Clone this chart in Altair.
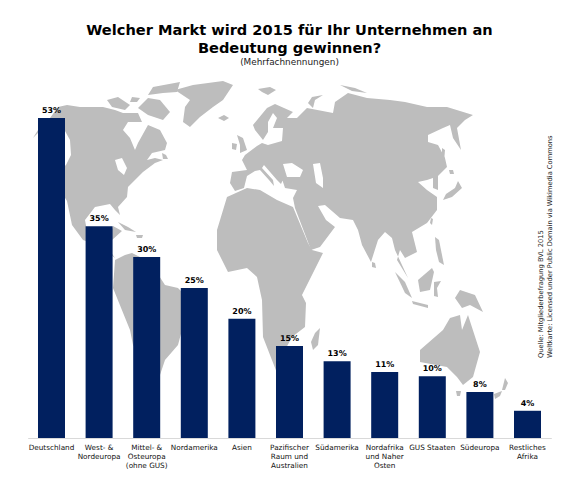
import altair as alt

categories = ["Deutschland", "West- &|Nordeuropa", "Mittel- &|Osteuropa|(ohne GUS)", "Nordamerika", "Asien",
              "Pazifischer|Raum und|Australien", "Südamerika", "Nordafrika|und Naher|Osten", "GUS Staaten",
              "Südeuropa", "Restliches|Afrika"]
bar_values = [52.9, 35.0, 29.9, 24.8, 19.7, 15.2, 12.7, 10.9, 10.2, 7.6, 4.5]
labels = ["53%", "35%", "30%", "25%", "20%", "15%", "13%", "11%", "10%", "8%", "4%"]

TITLE = ["Welcher Markt wird 2015 für Ihr Unternehmen an", "Bedeutung gewinnen?"]
SUBTITLE = "(Mehrfachnennungen)"
SOURCE_1 = "Quelle: Mitgliederbefragung BVL 2015"
SOURCE_2 = "Weltkarte: Licensed under Public Domain via Wikimedia Commons"

# World map outlines, in the reference's map grid
north_america = [(58,107),(67,105),(80,107),(103,107),(115,110),(123,113),(138,113),(142,122),(128,122),(123,130),(130,138),
                 (135,150),(138,143),(148,125),(160,130),(167,143),(165,150),(152,153),(147,160),(155,158),(163,160),
                 (155,163),(143,172),(137,178),(128,187),(127,197),(118,207),(120,215),(115,210),(110,204),(95,207),
                 (85,220),(88,236),(100,242),(110,236),(113,226),(122,231),(112,240),(108,248),(115,258),(100,246),
                 (83,240),(72,225),(67,201),(60,190),(60,170),(66,165),(71,155),(70,140),(65,131),(40,131),(33,138),
                 (38,130),(50,118)]
great_lakes = [(115,160),(122,158),(127,168),(124,175),(118,170)]
greenland = [(175,90),(193,85),(223,81),(233,85),(223,100),(213,107),(200,117),(190,127),(183,122),(185,107),(190,100)]
victoria = [(107,100),(118,97),(130,105),(125,110),(112,107)]
banks = [(132,97),(140,98),(137,102),(130,102)]
baffin = [(138,108),(148,98),(160,100),(170,112),(163,120),(148,115)]
ellesmere = [(148,95),(153,87),(180,82),(177,92),(163,93)]
newfoundland = [(162,153),(166,155),(168,159),(163,159)]
iceland = [(218,118),(224,115),(229,118),(224,121)]
svalbard = [(258,89),(270,87),(276,90),(268,95),(262,92)]
britain = [(237,135),(243,138),(247,150),(240,153),(240,145)]
ireland = [(232,143),(237,144),(236,150),(232,149)]
eurasia = [(267,108),(275,104),(293,112),(287,118),(297,118),(307,108),(333,113),(335,102),(348,93),
           (367,98),(390,100),(405,102),(427,107),(447,107),(473,115),(465,120),(457,128),(461,150),(453,138),
           (450,125),(443,128),(428,135),(428,142),(438,145),(445,158),(447,167),(438,176),(438,190),(433,188),
           (433,178),(427,180),(418,182),(427,190),(437,197),(437,210),(427,223),(412,232),(417,252),(405,258),
           (400,250),(397,260),(408,278),(402,265),(395,250),(392,238),(385,232),(378,240),(371,262),(362,245),
           (358,230),(353,220),(340,218),(325,205),(318,206),(326,220),(335,227),(320,247),(311,250),(295,208),
           (293,198),(297,190),(285,188),(282,179),(285,175),(281,184),(277,180),(264,165),(262,168),(273,180),
           (274,186),(269,180),(260,170),(255,171),(247,176),(244,188),(235,191),(230,183),(232,172),(247,170),
           (242,160),(245,155),(257,146),(262,143),(268,145),(282,141),(283,128),(273,128),(277,118),(273,113),
           (268,122),(268,132),(263,140),(259,135),(255,130),(253,125)]
black_sea = [(283,164),(292,163),(303,170),(300,177),(287,177)]
caspian = [(313,164),(320,163),(323,178),(323,188),(316,183)]
novaya = [(308,103),(312,97),(323,95),(315,100),(313,108)]
severnaya = [(340,85),(355,88),(367,93),(352,91)]
africa = [(217,230),(227,197),(247,188),(260,190),(277,200),(293,207),(308,243),(312,250),(323,253),(302,295),
          (306,303),(305,327),(292,337),(285,350),(286,365),(277,373),(263,337),(262,300),(257,277),(247,268),
          (228,272),(217,250)]
madagascar = [(320,328),(318,345),(313,350),(311,342),(315,333)]
south_america = [(115,260),(125,255),(132,253),(150,262),(165,285),(178,288),(190,300),(178,345),(165,360),(160,375),
                 (150,372),(133,345),(130,330),(113,288)]
cuba = [(118,222),(128,227),(136,232),(125,230)]
hispaniola = [(136,235),(143,235),(142,238),(137,238)]
sumatra = [(395,272),(405,282),(412,298),(405,293)]
java = [(412,301),(428,305),(428,308),(413,304)]
borneo = [(418,280),(432,268),(434,272),(430,290),(420,292)]
sulawesi = [(434,282),(441,281),(437,288),(438,297),(434,296)]
new_guinea = [(460,290),(475,295),(483,312),(470,305),(462,308),(455,298)]
philippines = [(435,237),(439,240),(444,265),(439,262),(436,250)]
sri_lanka = [(372,262),(375,263),(376,268),(372,267)]
taiwan = [(431,218),(433,219),(432,225),(430,223)]
honshu = [(443,200),(452,197),(462,188),(458,181),(455,188),(446,194)]
hokkaido = [(449,170),(453,170),(454,174),(450,174)]
sakhalin = [(442,148),(445,150),(444,162),(442,158)]
australia = [(420,350),(443,330),(450,318),(460,315),(462,330),(468,315),(480,352),(473,377),(463,385),(457,377),
             (447,367),(420,362)]
tasmania = [(456,391),(461,391),(460,396),(457,396)]
nz_north = [(502,390),(505,378),(508,383),(505,390)]
nz_south = [(494,394),(502,391),(500,396),(495,399)]

LAND = [(north_america, [great_lakes]), (eurasia, [black_sea, caspian])] + [(p, []) for p in
        [greenland, victoria, banks, baffin, ellesmere, newfoundland, iceland, svalbard, britain, ireland, novaya,
         severnaya, africa, madagascar, south_america, cuba, hispaniola, sumatra, java, borneo, sulawesi, new_guinea,
         philippines, sri_lanka, taiwan, honshu, hokkaido, sakhalin, australia, tasmania, nz_north, nz_south]]

PLOT_LEFT, PLOT_TOP = 27.7, 75


def area(r):
    return sum(r[i][0] * r[(i + 1) % len(r)][1] - r[(i + 1) % len(r)][0] * r[i][1] for i in range(len(r)))


def ring(r, positive):
    r = r if (area(r) > 0) == positive else r[::-1]
    return [list(p) for p in r] + [list(r[0])]


features = [{"type": "Feature", "properties": {},
             "geometry": {"type": "Polygon",
                          "coordinates": [ring(o, True)] + [ring(h, False) for h in holes]}}
            for o, holes in LAND]

world = alt.Chart(alt.Data(values=features)).mark_geoshape(fill="#bdbdbd").project(
    type="identity", scale=1, translate=[-PLOT_LEFT, -PLOT_TOP])

rows = [{"cat": c, "v": v, "label": l} for c, v, l in zip(categories, bar_values, labels)]
x = alt.X("cat:N", sort=categories, title=None,
          scale=alt.Scale(paddingInner=0.43, paddingOuter=0.215),
          axis=alt.Axis(labelAngle=0, ticks=False, domainColor="#d9d9d9", labelFont="DejaVu Sans", labelFontSize=7.3,
                        labelColor="#111111", labelPadding=6, labelLimit=0, labelLineHeight=9,
                        labelExpr="split(datum.label, '|')"))
y = alt.Y("v:Q", scale=alt.Scale(domain=[0, 60]), axis=None)

base = alt.Chart(alt.Data(values=rows)).encode(x=x, y=y)
bars = base.mark_bar(color="#01205f", size=27)
pct = base.mark_text(font="DejaVu Sans", fontSize=8, fontWeight="bold", baseline="bottom", dy=-3, color="#000000").encode(
    text="label:N")


def source_line(text, px, size):
    return alt.Chart(alt.Data(values=[{"t": text}])).mark_text(
        font="DejaVu Sans", fontSize=size, angle=270, align="left", color="#222222").encode(
        text="t:N", x=alt.value(px - PLOT_LEFT), y=alt.value(358 - PLOT_TOP))


chart = alt.layer(world, bars, pct, source_line(SOURCE_1, 541.5, 6.7), source_line(SOURCE_2, 550, 6.7)).properties(
    width=523.6, height=363,
    padding={"left": PLOT_LEFT - 8, "top": PLOT_TOP - 8, "right": 20, "bottom": 40},
    autosize=alt.AutoSizeParams(type="none"),
    background="white",
    title=alt.TitleParams(text=TITLE, subtitle=SUBTITLE, anchor="middle", font="DejaVu Sans", fontSize=14.6,
                          fontWeight="bold", color="#000000", lineHeight=19, subtitleFont="DejaVu Sans",
                          subtitleFontSize=8.9, subtitleColor="#222222", subtitlePadding=2, offset=8),
).configure_view(stroke=None)

chart.save("out.html", embed_options={"renderer": "svg", "actions": False})
